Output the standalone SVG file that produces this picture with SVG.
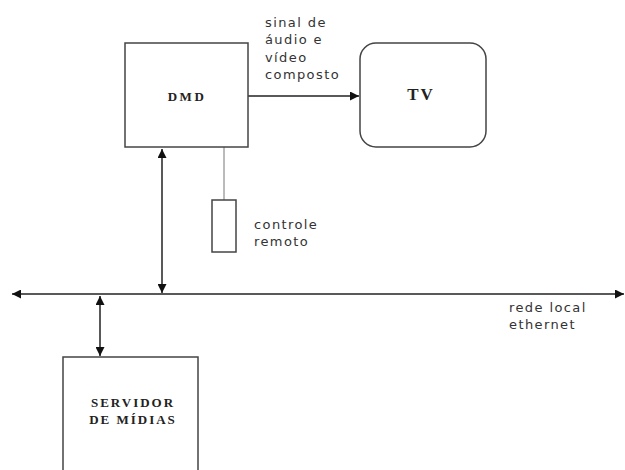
<svg xmlns="http://www.w3.org/2000/svg" width="625" height="470" viewBox="0 0 625 470">
<style>
.box{fill:#fff;stroke:#444;stroke-width:1.5}
.ln{fill:none;stroke:#222;stroke-width:1.5}
.thin{fill:none;stroke:#777;stroke-width:1}
.lbl{font-family:"DejaVu Sans","Liberation Sans",sans-serif;font-size:13px;letter-spacing:1.4px;fill:#333}
.nm{font-family:"Liberation Serif",serif;font-weight:bold;fill:#222;text-anchor:middle}
</style>
<defs>
<marker id="ah" viewBox="0 0 10 10" refX="10" refY="5" markerWidth="9" markerHeight="9" markerUnits="userSpaceOnUse" orient="auto-start-reverse">
<path d="M0,0 L10,5 L0,10 z" fill="#111"/>
</marker>
</defs>
<rect width="625" height="470" fill="#fff"/>
<g id="connectors">
<line class="ln" x1="248" y1="96" x2="359" y2="96" marker-end="url(#ah)"/>
<line class="ln" x1="162" y1="149" x2="162" y2="293" marker-start="url(#ah)" marker-end="url(#ah)"/>
<line class="thin" x1="224" y1="147" x2="224" y2="200"/>
<line class="ln" x1="12" y1="294" x2="624" y2="294" marker-start="url(#ah)" marker-end="url(#ah)"/>
<line class="ln" x1="100" y1="296" x2="100" y2="356" marker-start="url(#ah)" marker-end="url(#ah)"/>
<text class="lbl"><tspan x="265" y="27">sinal de</tspan><tspan x="265" y="44">áudio e</tspan><tspan x="265" y="62">vídeo</tspan><tspan x="265" y="79">composto</tspan></text>
<text class="lbl"><tspan x="509" y="312">rede local</tspan><tspan x="509" y="329">ethernet</tspan></text>
</g>
<g id="dmd">
<rect class="box" x="125" y="43" width="123" height="104"/>
<text class="nm" x="187" y="101" font-size="13" letter-spacing="2.5">DMD</text>
</g>
<g id="tv">
<rect class="box" x="360" y="43" width="126" height="104" rx="16"/>
<text class="nm" x="421" y="100" font-size="17" letter-spacing="2">TV</text>
</g>
<g id="controle">
<rect class="box" x="212" y="200" width="24" height="52"/>
<text class="lbl"><tspan x="254" y="229">controle</tspan><tspan x="254" y="246">remoto</tspan></text>
</g>
<g id="servidor">
<rect class="box" x="63" y="357" width="135" height="120"/>
<text class="nm" font-size="13" letter-spacing="2"><tspan x="133" y="407">SERVIDOR</tspan><tspan x="133" y="424">DE MÍDIAS</tspan></text>
</g>
</svg>
